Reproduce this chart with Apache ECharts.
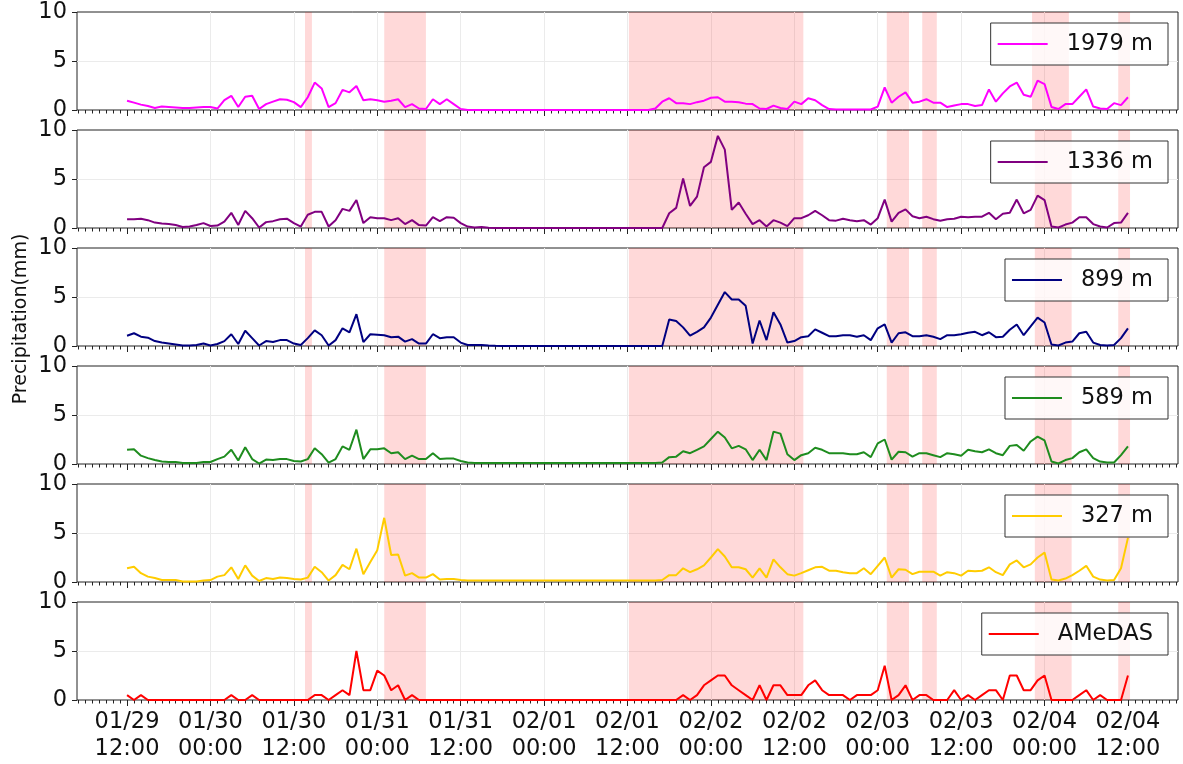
<!DOCTYPE html>
<html><head><meta charset="utf-8">
<script src="https://cdn.jsdelivr.net/npm/echarts@6/dist/echarts.min.js"></script>
<style>html,body{margin:0;padding:0;background:#fff}#c{width:1183px;height:764px}</style>
</head><body><div id="c"></div>
<script>
// ---- data (hourly values, hour 0 = 01/29 12:00) ----
const seriesNames = ['1979 m', '1336 m', '899 m', '589 m', '327 m', 'AMeDAS'];
const seriesColors = ['#ff00ff', '#800080', '#000080', '#1e8c1e', '#ffcc00', '#ff0000'];
const tickHours = [0, 12, 24, 36, 48, 60, 72, 84, 96, 108, 120, 132, 144];
const tickLabels = ['01/29\n12:00', '01/30\n00:00', '01/30\n12:00', '01/31\n00:00', '01/31\n12:00',
  '02/01\n00:00', '02/01\n12:00', '02/02\n00:00', '02/02\n12:00', '02/03\n00:00',
  '02/03\n12:00', '02/04\n00:00', '02/04\n12:00'];

const p1979 = [0.95,0.75,0.55,0.4,0.2,0.35,0.3,0.25,0.2,0.2,
  0.25,0.3,0.3,0.15,1.0,1.45,0.3,1.35,1.45,0.1,
  0.6,0.85,1.1,1.05,0.8,0.3,1.3,2.8,2.2,0.3,
  0.7,2.05,1.8,2.45,1.0,1.1,1.0,0.85,0.95,1.1,
  0.3,0.6,0.15,0.1,1.1,0.6,1.1,0.6,0.1,0.0,
  0,0,0,0,0,0,0,0,0,0,
  0,0,0,0,0,0,0,0,0,0,
  0,0,0,0,0,0,0.15,0.85,1.2,0.7,
  0.7,0.6,0.8,0.95,1.25,1.3,0.85,0.85,0.8,0.65,
  0.6,0.15,0.1,0.45,0.2,0.1,0.85,0.6,1.2,1.0,
  0.5,0.1,0.05,0.05,0.05,0.05,0.05,0.05,0.35,2.3,
  0.75,1.35,1.8,0.75,0.85,1.1,0.75,0.75,0.3,0.45,
  0.6,0.6,0.4,0.5,2.1,0.85,1.7,2.4,2.8,1.55,
  1.35,3.0,2.65,0.3,0.1,0.6,0.6,1.35,2.1,0.35,
  0.15,0.1,0.7,0.5,1.3];
const p1336 = [0.9,0.9,0.95,0.8,0.55,0.45,0.4,0.3,0.1,0.15,
  0.3,0.5,0.2,0.25,0.65,1.55,0.3,1.75,1.0,0.05,
  0.6,0.7,0.9,0.95,0.5,0.15,1.35,1.65,1.65,0.15,
  0.8,1.95,1.75,2.85,0.5,1.1,1.0,1.0,0.8,1.0,
  0.4,0.8,0.3,0.25,1.1,0.7,1.1,1.05,0.5,0.15,
  0.05,0.1,0.02,0,0,0,0,0,0,0,
  0,0,0,0,0,0,0,0,0,0,
  0,0,0,0,0,0,0,0,1.5,2.05,
  5.05,2.25,3.2,6.2,6.75,9.4,8.0,1.85,2.6,1.45,
  0.4,0.8,0.15,0.8,0.55,0.2,1.0,1.0,1.3,1.75,
  1.3,0.8,0.75,0.95,0.8,0.7,0.8,0.35,1.0,2.9,
  0.65,1.55,1.9,1.2,1.0,1.15,0.9,0.75,0.9,0.95,
  1.15,1.1,1.15,1.15,1.55,0.9,1.45,1.55,2.9,1.5,
  1.85,3.3,2.85,0.15,0.05,0.35,0.55,1.1,1.1,0.4,
  0.15,0.05,0.5,0.55,1.55];
const p899 = [1.05,1.3,0.95,0.85,0.5,0.35,0.25,0.15,0.05,0.05,
  0.1,0.25,0.05,0.2,0.5,1.2,0.2,1.55,0.8,0.05,
  0.5,0.4,0.6,0.6,0.25,0.1,0.8,1.6,1.1,0.05,
  0.6,1.8,1.4,3.25,0.4,1.2,1.15,1.1,0.9,0.95,
  0.45,0.7,0.25,0.25,1.2,0.8,0.9,0.9,0.35,0.1,
  0.1,0.1,0.05,0.02,0,0,0,0,0,0,
  0,0,0,0,0,0,0,0,0,0,
  0,0,0,0,0,0,0,0,2.7,2.55,
  1.9,1.05,1.45,1.9,2.9,4.2,5.5,4.75,4.75,4.1,
  0.25,2.6,0.6,3.45,2.2,0.35,0.5,0.9,1.0,1.7,
  1.35,1.0,1.0,1.1,1.1,0.95,1.1,0.6,1.8,2.2,
  0.35,1.3,1.4,1.0,1.0,1.1,0.95,0.7,1.1,1.1,
  1.2,1.35,1.45,1.1,1.4,0.9,0.95,1.65,2.2,1.1,
  2.0,2.9,2.4,0.15,0.05,0.35,0.45,1.3,1.45,0.35,
  0.1,0.05,0.1,0.8,1.8];
const p589 = [1.45,1.5,0.85,0.6,0.4,0.25,0.2,0.2,0.1,0.1,
  0.1,0.2,0.2,0.5,0.75,1.45,0.35,1.7,0.5,0.05,
  0.45,0.4,0.5,0.5,0.3,0.25,0.5,1.6,1.0,0.15,
  0.5,1.8,1.45,3.5,0.5,1.5,1.5,1.6,1.1,1.2,
  0.5,0.85,0.5,0.5,1.1,0.5,0.55,0.55,0.3,0.15,
  0.1,0.1,0.1,0.1,0.1,0.1,0.1,0.1,0.1,0.1,
  0.1,0.1,0.1,0.1,0.1,0.1,0.1,0.1,0.1,0.1,
  0.1,0.1,0.1,0.1,0.1,0.1,0.1,0.15,0.7,0.75,
  1.3,1.1,1.45,1.8,2.55,3.3,2.7,1.6,1.85,1.5,
  0.4,1.45,0.4,3.3,3.1,1.0,0.4,0.9,1.1,1.65,
  1.45,1.1,1.1,1.1,1.0,1.0,1.2,0.7,2.1,2.5,
  0.45,1.25,1.2,0.75,1.1,1.1,0.9,0.7,1.1,1.0,
  0.85,1.45,1.3,1.2,1.5,1.1,0.9,1.85,1.95,1.35,
  2.3,2.8,2.4,0.25,0.05,0.4,0.6,1.2,1.5,0.6,
  0.25,0.15,0.15,0.9,1.8];
const p327 = [1.4,1.55,0.9,0.55,0.4,0.2,0.2,0.2,0.05,0.05,
  0.05,0.15,0.2,0.55,0.7,1.5,0.3,1.7,0.65,0.1,
  0.4,0.3,0.45,0.4,0.3,0.25,0.45,1.55,1.0,0.15,
  0.7,1.75,1.3,3.4,0.8,2.05,3.25,6.55,2.75,2.8,
  0.65,0.9,0.45,0.45,0.8,0.25,0.3,0.3,0.2,0.15,
  0.15,0.15,0.15,0.15,0.15,0.15,0.15,0.15,0.15,0.15,
  0.15,0.15,0.15,0.15,0.15,0.15,0.15,0.15,0.15,0.15,
  0.15,0.15,0.15,0.15,0.15,0.15,0.15,0.2,0.7,0.7,
  1.4,1.0,1.3,1.7,2.5,3.35,2.6,1.5,1.5,1.3,
  0.45,1.4,0.45,2.3,1.5,0.8,0.65,0.9,1.2,1.5,
  1.55,1.15,1.15,1.0,0.9,0.9,1.4,0.8,1.65,2.5,
  0.45,1.3,1.25,0.8,1.05,1.05,1.05,0.65,1.0,0.9,
  0.65,1.15,1.1,1.15,1.5,1.0,0.7,1.8,2.2,1.5,
  1.8,2.5,3.0,0.25,0.15,0.35,0.7,1.15,1.65,0.55,
  0.25,0.15,0.2,1.4,4.5];
const pAMeDAS = [0.5,0,0.5,0,0,0,0,0,0,0,
  0,0,0,0,0,0.5,0,0,0.5,0,
  0,0,0,0,0,0,0,0.5,0.5,0,
  0.5,1.0,0.5,5.0,1.0,1.0,3.0,2.5,1.0,1.5,
  0,0.5,0,0,0,0,0,0,0,0,
  0,0,0,0,0,0,0,0,0,0,
  0,0,0,0,0,0,0,0,0,0,
  0,0,0,0,0,0,0,0,0,0,
  0.5,0,0.5,1.5,2.0,2.5,2.5,1.5,1.0,0.5,
  0,1.5,0,1.5,1.5,0.5,0.5,0.5,1.5,2.0,
  1.0,0.5,0.5,0.5,0,0.5,0.5,0.5,1.0,3.5,
  0,0.5,1.5,0,0.5,0.5,0,0,0,1.0,
  0,0.5,0,0.5,1.0,1.0,0,2.5,2.5,1.0,
  1.0,2.0,2.5,0,0,0,0,0.5,1.0,0,
  0.5,0,0,0,2.5];
const seriesValues = [p1979, p1336, p899, p589, p327, pAMeDAS];

// shaded periods, in hours from 01/29 12:00
const spansTop = [[25.6,26.6],[37.0,43.0],[72.2,97.3],[109.3,112.5],[114.4,116.5],[130.2,135.5],[142.6,144.3]];
const spansOther = [[25.6,26.6],[37.0,43.0],[72.2,97.3],[109.3,112.5],[114.4,116.5],[130.6,135.9],[142.6,144.3]];

// ---- chart ----
const FONT = 'DejaVu Sans';
const X_MIN = -7.2, X_MAX = 151.2;
const minorHours = [];
for (let h = -7; h <= 151; h++) minorHours.push(h);

const grids = [], xAxes = [], yAxes = [], series = [], legends = [];
for (let i = 0; i < 6; i++) {
  const top = 12 + 118 * i;
  grids.push({left: 77, right: 5, top: top, height: 98, show: true,
    borderColor: '#222', borderWidth: 1, backgroundColor: 'transparent'});
  xAxes.push({type: 'value', gridIndex: i, min: X_MIN, max: X_MAX, position: 'bottom',
    axisLine: {show: false, onZero: false},
    axisTick: {show: true, customValues: tickHours, length: 6, lineStyle: {color: '#222', width: 1}},
    axisLabel: {show: i === 5, customValues: tickHours, interval: 0, fontFamily: FONT, fontSize: 22.5,
      lineHeight: 27, color: '#111', margin: 9,
      formatter: v => tickLabels[tickHours.indexOf(Math.round(v))] || ''},
    splitLine: {show: true, showMinLine: false, showMaxLine: false, lineStyle: {color: '#ebebeb', width: 1}}});
  xAxes.push({type: 'value', gridIndex: i, min: X_MIN, max: X_MAX, position: 'bottom',
    axisLine: {show: false, onZero: false},
    axisTick: {show: true, customValues: minorHours, length: 3.5, lineStyle: {color: '#222', width: 1}},
    axisLabel: {show: false}, splitLine: {show: false}});
  yAxes.push({type: 'value', gridIndex: i, min: 0, max: 10, interval: 5, position: 'left',
    axisLine: {show: false, onZero: false},
    axisTick: {show: true, length: 5, lineStyle: {color: '#222'}},
    axisLabel: {fontFamily: FONT, fontSize: 22.5, color: '#111', margin: 10},
    splitLine: {show: true, showMinLine: false, showMaxLine: false, lineStyle: {color: '#ebebeb', width: 1}}});
  const spans = i === 0 ? spansTop : spansOther;
  series.push({type: 'line', name: seriesNames[i], xAxisIndex: 2 * i, yAxisIndex: i,
    data: seriesValues[i].map((v, k) => [k, v]),
    symbol: 'none', showSymbol: false,
    lineStyle: {width: 2, color: seriesColors[i]}, itemStyle: {color: seriesColors[i]},
    z: 3,
    markArea: {silent: true, itemStyle: {color: 'rgba(255,0,0,0.15)'},
      data: spans.map(s => [{xAxis: s[0]}, {xAxis: s[1]}])}});
  legends.push({data: [seriesNames[i]], right: 15, top: top + 11, icon: 'rect',
    itemWidth: 50, itemHeight: 2, selectedMode: false,
    textStyle: {fontFamily: FONT, fontSize: 22.5, color: '#111', padding: [0, 0, 0, 14], lineHeight: 28},
    borderColor: '#333', borderWidth: 1, borderRadius: 0, padding: [7, 15, 7, 7],
    backgroundColor: 'rgba(255,255,255,0.8)'});
}

const chart = echarts.init(document.getElementById('c'), null, {renderer: 'canvas'});
chart.setOption({
  animation: false,
  backgroundColor: '#fff',
  grid: grids, xAxis: xAxes, yAxis: yAxes, series: series, legend: legends,
  graphic: [{type: 'text', x: 21, y: 319, rotation: Math.PI / 2,
    style: {text: 'Precipitation(mm)', font: '19px "DejaVu Sans"', fill: '#111',
      textAlign: 'center', textVerticalAlign: 'middle', align: 'center', verticalAlign: 'middle'}}]
});
</script></body></html>
